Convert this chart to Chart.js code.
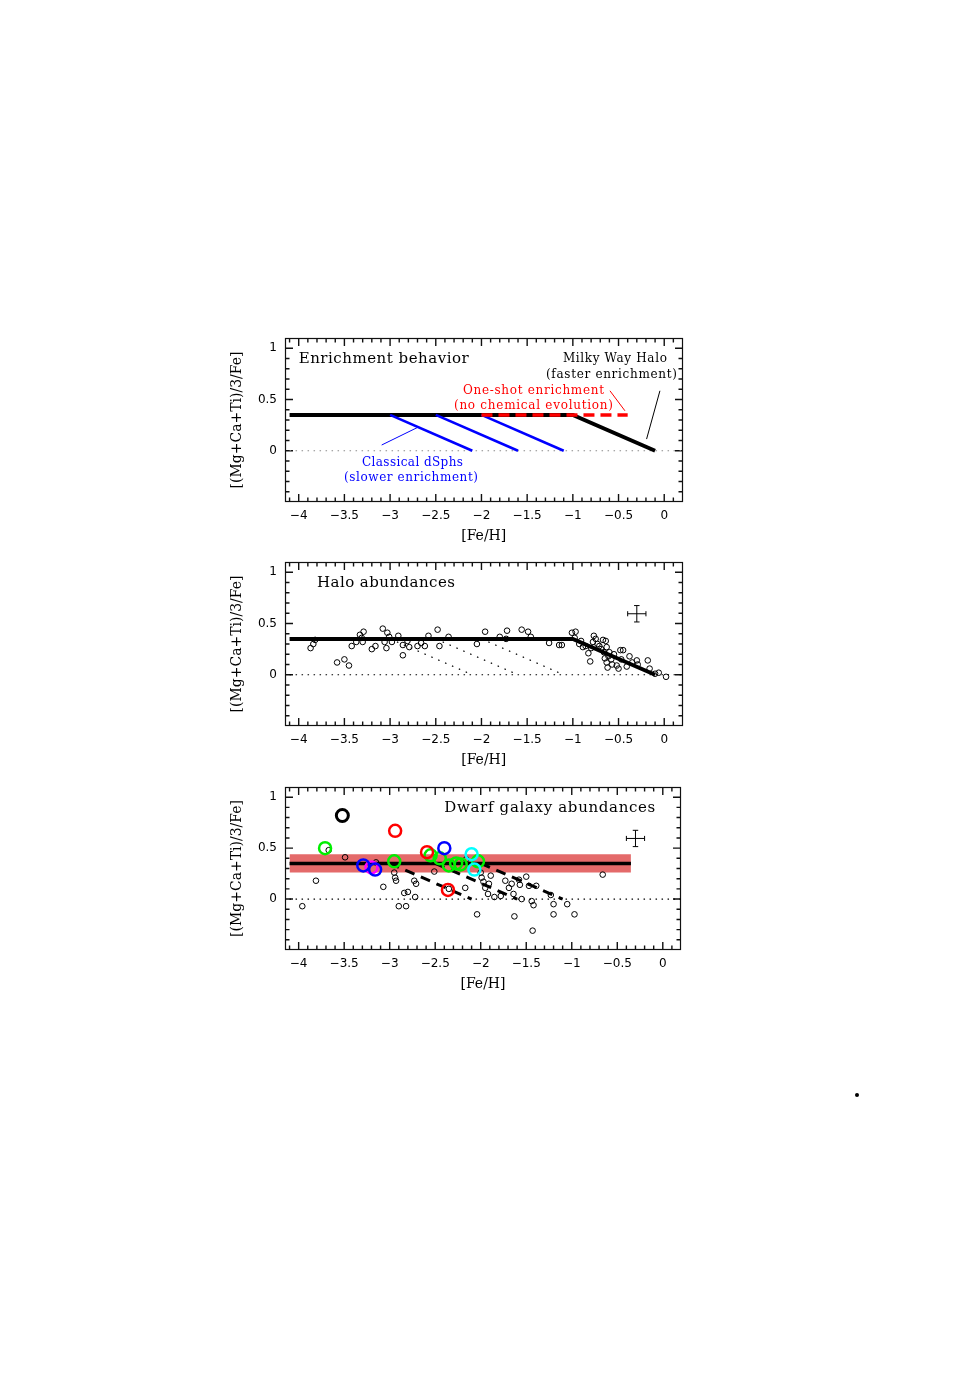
<!DOCTYPE html>
<html>
<head>
<meta charset="utf-8">
<script src="https://cdn.jsdelivr.net/npm/chart.js@4.4.1/dist/chart.umd.min.js"></script>
<style>
html,body{margin:0;padding:0;background:#fff;}
body{width:954px;height:1375px;position:relative;overflow:hidden;}
canvas{position:absolute;left:220px;}
#dot{position:absolute;left:855px;top:1093px;width:4px;height:4px;border-radius:2px;background:#000;}
</style>
</head>
<body>
<canvas id="c1" width="470" height="215" style="top:330px"></canvas>
<canvas id="c2" width="470" height="215" style="top:554px"></canvas>
<canvas id="c3" width="470" height="215" style="top:778px"></canvas>
<div id="dot"></div>
<script>
// ---------- axes ----------
const xMin = -4.15, xMax = 0.2;
const yMin = -0.5, yMax = 1.1;
const xTicks = [-4, -3.5, -3, -2.5, -2, -1.5, -1, -0.5, 0];
const yTicks = [0, 0.5, 1];
const xMinorTicks = [-4.1,-4,-3.9,-3.8,-3.7,-3.6,-3.5,-3.4,-3.3,-3.2,-3.1,-3,-2.9,-2.8,-2.7,-2.6,-2.5,-2.4,-2.3,-2.2,-2.1,-2,-1.9,-1.8,-1.7,-1.6,-1.5,-1.4,-1.3,-1.2,-1.1,-1,-0.9,-0.8,-0.7,-0.6,-0.5,-0.4,-0.3,-0.2,-0.1,0,0.1];
const yMinorTicks = [-0.4,-0.3,-0.2,-0.1,0,0.1,0.2,0.3,0.4,0.5,0.6,0.7,0.8,0.9,1.0];
const xTitle = '[Fe/H]';
const yTitle = '[(Mg+Ca+Ti)/3/Fe]';

// ---------- model tracks ----------
const zeroLineFeH = [-4.1, 0.2];
const mwHaloFeH = [-4.1, -1.0, -0.1];
const mwHaloAlpha = [0.35, 0.35, 0.0];
const oneShotFeH = [-2.0, -0.4];
const oneShotAlpha = [0.35, 0.35];
const dsphStartFeH = [-3.0, -2.5, -2.0];
const dsphEndFeH = [-2.1, -1.6, -1.1];
const dsphStartAlpha = 0.35;
const dsphEndAlpha = 0.0;
const dwarfPlateauFeH = [-4.1, -0.35];
const dwarfPlateauAlpha = 0.35;
const dwarfBandLow = 0.26, dwarfBandHigh = 0.44;

// ---------- annotation leader lines (panel 1) ----------
const leaderOneShotFeH = [-0.594, -0.43], leaderOneShotAlpha = [0.585, 0.39];
const leaderHaloFeH = [-0.047, -0.193], leaderHaloAlpha = [0.585, 0.114];
const leaderDsphFeH = [-3.092, -2.698], leaderDsphAlpha = [0.056, 0.228];

// ---------- typical error ----------
const errFeH = -0.3, errAlpha = 0.595, errDFeH = 0.1, errDAlpha = 0.08;

// ---------- Milky Way halo stars ----------
const haloFeH = [-3.87,-3.84,-3.82,-3.58,-3.50,-3.45,-3.42,-3.37,-3.33,-3.31,
  -3.29,-3.30,-3.20,-3.16,-3.08,-3.06,-3.04,-3.03,-3.01,-2.98,
  -2.91,-2.86,-2.86,-2.81,-2.79,-2.70,-2.66,-2.62,-2.58,-2.48,
  -2.46,-2.36,-2.05,-1.96,-1.80,-1.73,-1.72,-1.56,-1.49,-1.46,
  -1.26,-1.15,-1.12,-1.01,-0.97,-0.98,-0.93,-0.91,-0.89,-0.86,
  -0.83,-0.81,-0.78,-0.77,-0.75,-0.71,-0.67,-0.66,-0.65,-0.64,
  -0.63,-0.63,-0.61,-0.60,-0.58,-0.55,-0.52,-0.50,-0.48,-0.45,
  -0.47,-0.41,-0.38,-0.35,-0.30,-0.18,-0.16,-0.10,-0.06,0.02,
  -0.73,-0.69,-0.57,-0.62,-0.29,-0.80];
const haloAlpha = [0.26,0.30,0.34,0.12,0.15,0.09,0.28,0.32,0.39,0.36,
  0.42,0.32,0.25,0.28,0.45,0.32,0.26,0.41,0.37,0.32,
  0.38,0.29,0.19,0.33,0.27,0.28,0.31,0.28,0.38,0.44,
  0.28,0.37,0.30,0.42,0.37,0.35,0.43,0.44,0.42,0.37,
  0.31,0.29,0.29,0.41,0.42,0.36,0.30,0.33,0.27,0.28,
  0.21,0.13,0.32,0.38,0.35,0.28,0.34,0.22,0.16,0.33,
  0.12,0.27,0.18,0.22,0.15,0.20,0.09,0.06,0.24,0.24,
  0.15,0.08,0.18,0.12,0.14,0.14,0.06,0.01,0.02,-0.02,
  0.30,0.25,0.10,0.07,0.10,0.26];

// ---------- dwarf galaxy stars ----------
const dwarfFeH = [-3.96,-3.81,-3.67,-3.49,-3.15,-3.07,-2.95,-2.94,-2.93,-2.90,
  -2.82,-2.84,-2.80,-2.73,-2.71,-2.72,-2.51,-2.35,-2.17,-2.16,
  -2.04,-1.99,-1.95,-1.91,-1.92,-1.89,-1.85,-1.78,-1.73,-1.69,
  -1.66,-1.64,-1.63,-1.58,-1.57,-1.55,-1.50,-1.47,-1.44,-1.43,
  -1.42,-1.39,-1.23,-1.20,-1.20,-1.05,-0.97,-0.66,-2.00,-1.97];
const dwarfAlpha = [-0.07,0.18,0.48,0.41,0.36,0.12,0.26,0.21,0.18,-0.07,
  -0.07,0.06,0.07,0.18,0.15,0.02,0.27,0.10,0.11,0.39,
  -0.15,0.21,0.11,0.15,0.05,0.23,0.02,0.03,0.18,0.11,
  0.15,0.05,-0.17,0.19,0.14,0.00,0.22,0.13,-0.02,-0.31,
  -0.06,0.13,0.04,-0.05,-0.15,-0.05,-0.15,0.24,0.26,0.17];

// highlighted stars (by symbol colour group)
const blackStarFeH = [-3.52], blackStarAlpha = [0.82];
const redStarFeH = [-2.94, -2.59, -2.36], redStarAlpha = [0.67, 0.46, 0.09];
const greenStarFeH = [-3.71, -2.95, -2.55, -2.45, -2.35, -2.27, -2.22, -2.03];
const greenStarAlpha = [0.50, 0.37, 0.43, 0.40, 0.33, 0.35, 0.34, 0.37];
const blueStarFeH = [-3.29, -3.16, -2.40], blueStarAlpha = [0.33, 0.29, 0.50];
const magentaStarFeH = [-3.20], magentaStarAlpha = [0.31];
const cyanStarFeH = [-2.10, -2.07], cyanStarAlpha = [0.44, 0.29];

// ---------- helpers ----------
const pts = (xs, ys) => xs.map((x, i) => ({x, y: Array.isArray(ys) ? ys[i] : ys}));
const fmt = v => v === 0 ? '0' : (v < 0 ? '\u2212' + Math.abs(v) : String(v));
const isMajor = v => Math.abs(v * 2 - Math.round(v * 2)) < 1e-6;

function lineDs(data, color, width, dash, order, extra) {
  return Object.assign({type: 'line', data, borderColor: color, borderWidth: width,
    borderDash: dash || [], pointRadius: 0, fill: false, tension: 0, spanGaps: false,
    borderCapStyle: 'butt', order}, extra || {});
}
function pointDs(data, color, radius, width, order) {
  return {type: 'scatter', data, pointStyle: 'circle', pointRadius: radius,
    pointBorderColor: color, pointBackgroundColor: 'rgba(0,0,0,0)', pointBorderWidth: width,
    borderColor: color, backgroundColor: 'rgba(0,0,0,0)', order};
}
function dsphTracks(color, width, dash, order) {
  return dsphStartFeH.map((s, i) => lineDs(
    [{x: s, y: dsphStartAlpha}, {x: dsphEndFeH[i], y: dsphEndAlpha}], color, width, dash, order));
}
function errCross(order) {
  const cx = 0.03, cy = 0.025;
  const d = [
    {x: errFeH - errDFeH, y: errAlpha}, {x: errFeH + errDFeH, y: errAlpha}, {x: errFeH, y: null},
    {x: errFeH, y: errAlpha - errDAlpha}, {x: errFeH, y: errAlpha + errDAlpha}, {x: errFeH, y: null},
    {x: errFeH - errDFeH, y: errAlpha - cy}, {x: errFeH - errDFeH, y: errAlpha + cy}, {x: errFeH, y: null},
    {x: errFeH + errDFeH, y: errAlpha - cy}, {x: errFeH + errDFeH, y: errAlpha + cy}, {x: errFeH, y: null},
    {x: errFeH - cx, y: errAlpha + errDAlpha}, {x: errFeH + cx, y: errAlpha + errDAlpha}, {x: errFeH, y: null},
    {x: errFeH - cx, y: errAlpha - errDAlpha}, {x: errFeH + cx, y: errAlpha - errDAlpha}
  ];
  return lineDs(d, '#000', 1, [], order);
}

// frame + inward ticks drawn before datasets, annotations after
const framePlugin = {
  id: 'frame',
  beforeDatasetsDraw(chart) {
    const ctx = chart.ctx, a = chart.chartArea;
    const xs = chart.scales.x, ys = chart.scales.y;
    const L = Math.round(a.left), R = Math.round(a.right), T = Math.round(a.top), B = Math.round(a.bottom);
    ctx.save();
    ctx.setLineDash([]);
    ctx.strokeStyle = '#111';
    ctx.lineWidth = 1.4;
    ctx.beginPath();
    xMinorTicks.forEach(v => {
      const len = isMajor(v) ? 8 : 4.5;
      const p = xs.getPixelForValue(v);
      ctx.moveTo(p, T); ctx.lineTo(p, T + len);
      ctx.moveTo(p, B); ctx.lineTo(p, B - len);
    });
    yMinorTicks.forEach(v => {
      const len = isMajor(v) ? 8 : 4.5;
      const p = ys.getPixelForValue(v);
      ctx.moveTo(L, p); ctx.lineTo(L + len, p);
      ctx.moveTo(R, p); ctx.lineTo(R - len, p);
    });
    ctx.stroke();
    ctx.lineWidth = 1.2;
    ctx.strokeRect(L + 0.5, T + 0.5, R - L - 1, B - T - 1);
    ctx.restore();
  },
  afterDraw(chart, args, opts) {
    const ctx = chart.ctx;
    const xs = chart.scales.x, ys = chart.scales.y;
    ctx.save();
    (opts.texts || []).forEach(t => {
      ctx.font = t.size + 'px "DejaVu Serif"';
      ctx.letterSpacing = '0px';
      const base = ctx.measureText(t.text).width;
      const n = t.text.length;
      const ls = t.w ? (t.w - base) / (n - 1) : 0;
      const total = base + ls * (n - 1);
      ctx.letterSpacing = ls + 'px';
      const px = xs.getPixelForValue(t.x), py = ys.getPixelForValue(t.y);
      let left = px;
      if (t.align === 'center') left = px - total / 2;
      else if (t.align === 'right') left = px - total;
      ctx.fillStyle = t.color || '#000';
      ctx.textAlign = 'left';
      ctx.textBaseline = 'middle';
      ctx.fillText(t.text, left, py);
    });
    ctx.letterSpacing = '0px';
    ctx.restore();
  }
};

function makeChart(id, datasets, texts) {
  return new Chart(document.getElementById(id), {
    data: {datasets},
    options: {
      responsive: false, animation: false, events: [],
      layout: {padding: {top: 8, right: 7.5, left: 0, bottom: 0}},
      plugins: {legend: {display: false}, tooltip: {enabled: false}, frame: {texts}},
      scales: {
        x: {
          type: 'linear', position: 'bottom', min: xMin, max: xMax,
          afterFit(s) { s.height = 43; s.paddingLeft = 0; s.paddingRight = 0; },
          afterBuildTicks(s) { s.ticks = xTicks.map(v => ({value: v})); },
          grid: {display: false, drawTicks: false}, border: {display: false},
          ticks: {padding: 7, color: '#000', autoSkip: false, maxRotation: 0,
            font: {family: 'DejaVu Sans', size: 12}, callback: v => fmt(v)},
          title: {display: true, text: xTitle, color: '#000',
            font: {family: 'DejaVu Serif', size: 14}, padding: {top: 0, bottom: 0}}
        },
        y: {
          type: 'linear', position: 'left', min: yMin, max: yMax,
          afterFit(s) { s.width = 65; s.paddingTop = 0; s.paddingBottom = 0; },
          afterBuildTicks(s) { s.ticks = yTicks.map(v => ({value: v})); },
          grid: {display: false, drawTicks: false}, border: {display: false},
          ticks: {padding: 8, color: '#000', font: {family: 'DejaVu Sans', size: 12},
            callback: v => fmt(v)},
          title: {display: true, text: yTitle, color: '#000',
            font: {family: 'DejaVu Serif', size: 14}, padding: {top: 9, bottom: 0}}
        }
      }
    },
    plugins: [framePlugin]
  });
}

// ---------- Panel 1: Enrichment behavior ----------
makeChart('c1', [
  lineDs(pts(zeroLineFeH, 0), '#8a8a8a', 1.2, [1.5, 4.5], 20),
  lineDs(pts(mwHaloFeH, mwHaloAlpha), '#000', 4, [], 10),
  ...dsphTracks('#0000ff', 2.6, [], 9),
  lineDs(pts(oneShotFeH, oneShotAlpha), '#ff0000', 3.5, [11, 6], 5),
  lineDs(pts(leaderOneShotFeH, leaderOneShotAlpha), '#ff0000', 1, [], 4),
  lineDs(pts(leaderHaloFeH, leaderHaloAlpha), '#000', 1, [], 4),
  lineDs(pts(leaderDsphFeH, leaderDsphAlpha), '#0000ff', 1, [], 4)
], [
  {text: 'Enrichment behavior', x: -4.0, y: 0.895, align: 'left', size: 15, w: 170},
  {text: 'Milky Way Halo', x: -0.54, y: 0.895, align: 'center', size: 12, w: 104},
  {text: '(faster enrichment)', x: -0.578, y: 0.739, align: 'center', size: 12, w: 131},
  {text: 'One-shot enrichment', x: -1.431, y: 0.583, align: 'center', size: 12, w: 141, color: '#ff0000'},
  {text: '(no chemical evolution)', x: -1.431, y: 0.437, align: 'center', size: 12, w: 159, color: '#ff0000'},
  {text: 'Classical dSphs', x: -2.755, y: -0.12, align: 'center', size: 12, w: 101, color: '#0000ff'},
  {text: '(slower enrichment)', x: -2.771, y: -0.266, align: 'center', size: 12, w: 134, color: '#0000ff'}
]);

// ---------- Panel 2: Halo abundances ----------
makeChart('c2', [
  lineDs(pts(zeroLineFeH, 0), '#000', 1.2, [1.5, 4.5], 20),
  ...dsphTracks('#000', 1.2, [1.5, 6], 19),
  lineDs(pts(mwHaloFeH, mwHaloAlpha), '#000', 4, [], 10),
  pointDs(pts(haloFeH, haloAlpha), '#000', 2.8, 1, 5),
  errCross(4)
], [
  {text: 'Halo abundances', x: -3.80, y: 0.895, align: 'left', size: 15, w: 138}
]);

// ---------- Panel 3: Dwarf galaxy abundances ----------
makeChart('c3', [
  lineDs(pts(dwarfPlateauFeH, dwarfBandHigh), 'rgba(0,0,0,0)', 0, [], 30,
    {fill: {value: dwarfBandLow}, backgroundColor: 'rgb(228,106,106)'}),
  lineDs(pts(zeroLineFeH, 0), '#000', 1.2, [1.5, 4.5], 20),
  lineDs(pts(dwarfPlateauFeH, dwarfPlateauAlpha), '#000', 3.5, [], 15),
  ...dsphTracks('#000', 3, [10, 7], 14),
  pointDs(pts(dwarfFeH, dwarfAlpha), '#000', 2.8, 1, 10),
  pointDs(pts(greenStarFeH, greenStarAlpha), '#00ee00', 6, 2.5, 8),
  pointDs(pts(redStarFeH, redStarAlpha), '#ff0000', 6, 2.5, 7),
  pointDs(pts(magentaStarFeH, magentaStarAlpha), '#ff00ff', 6, 2.5, 6),
  pointDs(pts(blueStarFeH, blueStarAlpha), '#0000ff', 6, 2.5, 5),
  pointDs(pts(cyanStarFeH, cyanStarAlpha), '#00ffff', 6, 2.5, 4),
  pointDs(pts(blackStarFeH, blackStarAlpha), '#000', 6, 3, 3),
  errCross(2)
], [
  {text: 'Dwarf galaxy abundances', x: -2.40, y: 0.895, align: 'left', size: 15, w: 211}
]);
</script>
</body>
</html>
